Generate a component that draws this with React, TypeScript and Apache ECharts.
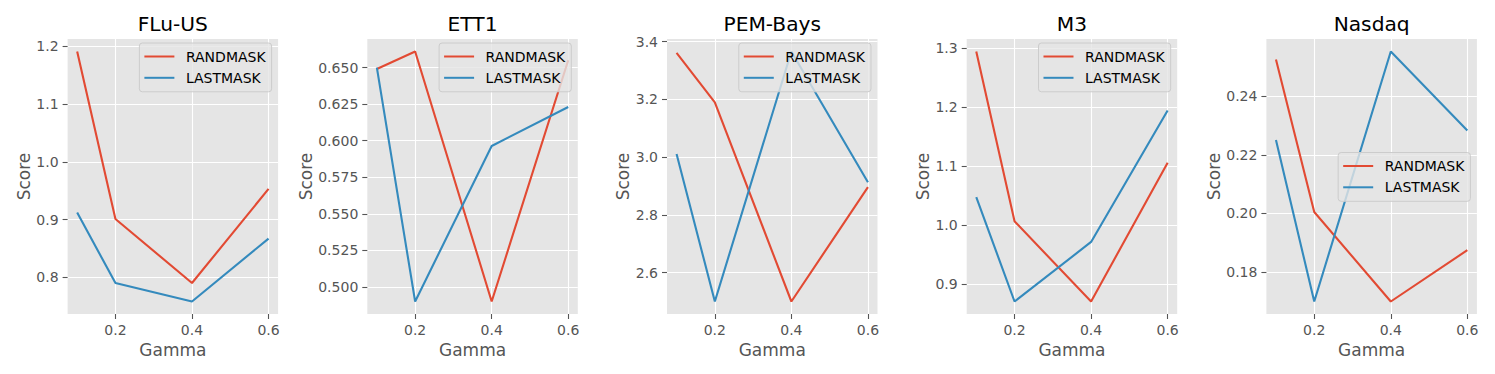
import React, { useEffect, useRef } from "react";
import * as echarts from "echarts";

const titles = ["FLu-US", "ETT1", "PEM-Bays", "M3", "Nasdaq"];
const gammas = [0.1, 0.2, 0.4, 0.6];
const randMask = [
  [1.191, 0.901, 0.79, 0.953],
  [0.649, 0.661, 0.49, 0.655],
  [3.361, 3.19, 2.5, 2.896],
  [1.294, 1.006, 0.87, 1.1055],
  [0.2525, 0.2005, 0.17, 0.1875],
];
const lastMask = [
  [0.912, 0.79, 0.758, 0.867],
  [0.65, 0.49, 0.5964, 0.623],
  [3.011, 2.5, 3.366, 2.913],
  [1.047, 0.87, 0.971, 1.194],
  [0.225, 0.17, 0.2552, 0.2283],
];
const xTicks = [0.2, 0.4, 0.6];
const yTicks = [
  [0.8, 0.9, 1.0, 1.1, 1.2],
  [0.5, 0.525, 0.55, 0.575, 0.6, 0.625, 0.65],
  [2.6, 2.8, 3.0, 3.2, 3.4],
  [0.9, 1.0, 1.1, 1.2, 1.3],
  [0.18, 0.2, 0.22, 0.24],
];
const yDecimals = [1, 3, 1, 1, 2];
const yNameGaps = [35, 53, 35, 34.5, 44];
const legendTops = [43, 43, 43, 43, 152.5];
const seriesNames = ["RANDMASK", "LASTMASK"];

const W = 1495;
const H = 374;
const FONT = "DejaVu Sans";
const RED = "#E24A33";
const BLUE = "#348ABD";
const GRID_LEFT0 = 67.6;
const GRID_STEP = 299.7;
const GRID_W = 210.5;
const GRID_TOP = 39;
const GRID_H = 275;

export default function App() {
  const ref = useRef<HTMLDivElement>(null);
  useEffect(() => {
    document.body.style.margin = "0";
    if (!ref.current) return;
    const chart = echarts.init(ref.current, null, { renderer: "svg" });
    const grids: any[] = [];
    const xAxes: any[] = [];
    const yAxes: any[] = [];
    const series: any[] = [];
    const legends: any[] = [];
    const titleOpts: any[] = [];
    titles.forEach((t, i) => {
      const left = GRID_LEFT0 + GRID_STEP * i;
      grids.push({
        left,
        top: GRID_TOP,
        width: GRID_W,
        height: GRID_H,
        show: true,
        backgroundColor: "#E5E5E5",
        borderWidth: 0,
      });
      const all = randMask[i].concat(lastMask[i]);
      const lo = Math.min(...all);
      const hi = Math.max(...all);
      const pad = (hi - lo) * 0.05;
      xAxes.push({
        type: "value",
        gridIndex: i,
        min: 0.075,
        max: 0.625,
        axisLine: { show: false },
        axisTick: {
          show: true,
          customValues: xTicks,
          length: 5,
          lineStyle: { color: "#555555", width: 1.1 },
        },
        axisLabel: {
          customValues: xTicks,
          formatter: (v: number) => v.toFixed(1),
          color: "#555555",
          fontSize: 14,
          fontFamily: FONT,
          margin: 9,
        },
        splitLine: { show: true, lineStyle: { color: "#ffffff", width: 1.1 } },
        name: "Gamma",
        nameLocation: "middle",
        nameGap: 26,
        nameTextStyle: { color: "#555555", fontSize: 17, fontFamily: FONT },
      });
      yAxes.push({
        type: "value",
        gridIndex: i,
        min: lo - pad,
        max: hi + pad,
        axisLine: { show: false },
        axisTick: {
          show: true,
          customValues: yTicks[i],
          length: 5,
          lineStyle: { color: "#555555", width: 1.1 },
        },
        axisLabel: {
          customValues: yTicks[i],
          formatter: (v: number) => v.toFixed(yDecimals[i]),
          color: "#555555",
          fontSize: 14,
          fontFamily: FONT,
          margin: 9,
        },
        splitLine: { show: true, lineStyle: { color: "#ffffff", width: 1.1 } },
        name: "Score",
        nameLocation: "middle",
        nameGap: yNameGaps[i],
        nameTextStyle: { color: "#555555", fontSize: 17, fontFamily: FONT },
      });
      [randMask[i], lastMask[i]].forEach((vals, k) => {
        series.push({
          type: "line",
          name: seriesNames[k],
          xAxisIndex: i,
          yAxisIndex: i,
          data: gammas.map((g, j) => [g, vals[j]]),
          showSymbol: false,
          symbol: "none",
          color: k === 0 ? RED : BLUE,
          lineStyle: { width: 2.1, color: k === 0 ? RED : BLUE },
        });
      });
      titleOpts.push({
        text: t,
        left: left + GRID_W / 2,
        top: 14,
        textAlign: "center",
        padding: 0,
        textStyle: { fontSize: 20.2, fontWeight: "normal", color: "#000000", fontFamily: FONT },
      });
      legends.push({
        data: seriesNames,
        orient: "vertical",
        right: W - (left + GRID_W - 6.5),
        top: legendTops[i],
        icon: "rect",
        itemWidth: 30,
        itemHeight: 2,
        itemGap: 7.3,
        padding: [6.5, 6, 7, 5],
        backgroundColor: "rgba(229,229,229,0.8)",
        borderColor: "#cccccc",
        borderWidth: 1,
        borderRadius: 3,
        selectedMode: false,
        textStyle: {
          fontSize: 14,
          lineHeight: 14,
          color: "#000000",
          fontFamily: FONT,
          padding: [0, 0, 0, 6.5],
        },
      });
    });
    chart.setOption({
      animation: false,
      backgroundColor: "#ffffff",
      title: titleOpts,
      grid: grids,
      xAxis: xAxes,
      yAxis: yAxes,
      legend: legends,
      series,
    });
    return () => chart.dispose();
  }, []);
  return <div ref={ref} style={{ width: W, height: H }} />;
}
